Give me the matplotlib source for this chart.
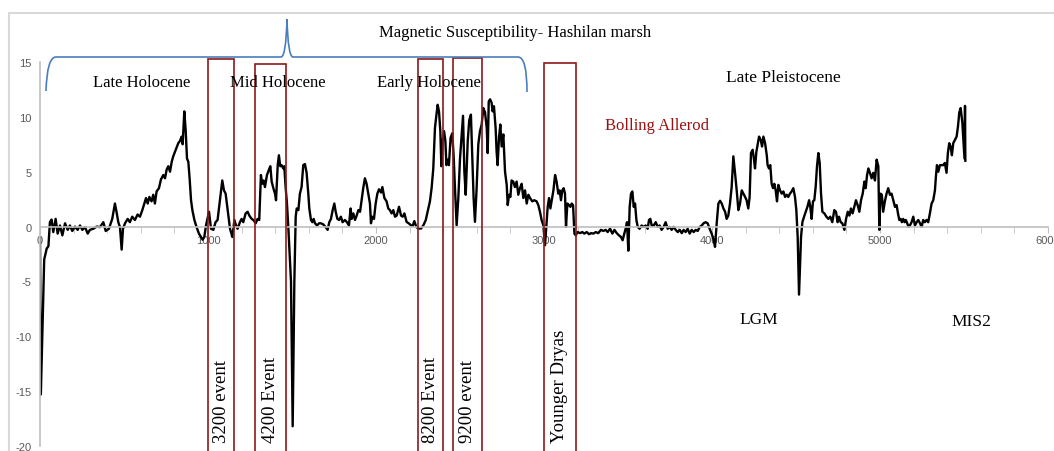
import matplotlib.pyplot as plt
from matplotlib.patches import Rectangle, PathPatch
from matplotlib.path import Path
from matplotlib.ticker import MultipleLocator

plt.rcParams['axes.unicode_minus'] = False

# Magnetic susceptibility record (depth / age axis, value)
depth = [0, 5, 25, 40, 50, 59, 69, 79, 93, 105, 119, 133, 149, 165, 178, 192, 208, 224, 238, 252,
         268, 284, 297, 317, 337, 357, 377, 391, 410, 430, 446, 456, 466, 476, 486, 494, 506, 522, 535, 549,
         565, 581, 595, 609, 621, 631, 641, 651, 664, 674, 684, 694, 708, 720, 734, 744, 754, 764, 774, 784,
         793, 803, 813, 823, 833, 843, 849, 859, 867, 875, 883, 891, 899, 907, 919, 932, 946, 958, 968, 978,
         988,
         1006, 1018, 1032, 1045, 1057, 1071, 1085, 1095, 1105, 1117, 1131, 1145, 1157, 1167, 1176, 1190, 1200,
         1210, 1224, 1236, 1246, 1260, 1270, 1284, 1295, 1305, 1315, 1323, 1331, 1339, 1351, 1363, 1371, 1379,
         1389, 1399, 1405, 1415, 1422, 1430, 1438, 1448, 1454, 1462, 1470, 1478, 1494, 1504, 1514, 1522, 1528,
         1538, 1547, 1557, 1567, 1577, 1587, 1597, 1603, 1613, 1621, 1629, 1637, 1649, 1661, 1672, 1686, 1700,
         1712, 1722, 1732, 1742, 1752, 1760, 1770, 1780, 1791, 1801, 1815, 1827, 1839, 1849, 1855, 1865, 1875,
         1885, 1895, 1905, 1914, 1924, 1934, 1944, 1954, 1964, 1970, 1978, 1988, 1998, 2008, 2018, 2030, 2038,
         2050,
         2063, 2073, 2083, 2093, 2103, 2113, 2123, 2137, 2149, 2159, 2169, 2182, 2196, 2208, 2218, 2228, 2240,
         2252, 2268, 2282, 2296, 2307, 2321, 2331, 2341, 2351, 2359, 2367, 2375, 2383, 2389, 2397, 2405, 2413,
         2419, 2427, 2434, 2444, 2454, 2462, 2470, 2480, 2490, 2500, 2510, 2518, 2526, 2534, 2546, 2555, 2565,
         2573, 2581, 2589, 2599, 2609, 2619, 2629, 2639, 2649, 2659, 2665, 2671, 2679, 2688, 2694, 2702, 2712,
         2718, 2724, 2732, 2740, 2748, 2758, 2768, 2778, 2784, 2792, 2800, 2807, 2817, 2827, 2837, 2847, 2857,
         2867, 2877, 2887, 2897, 2907, 2917, 2930, 2942, 2956, 2966, 2976, 2986, 2996, 3006,
         3022, 3030, 3038, 3046, 3056, 3066, 3075, 3085, 3093, 3101, 3109, 3117, 3125, 3131, 3139, 3149, 3157,
         3165, 3173, 3181, 3189, 3200, 3214, 3228, 3240, 3254, 3268, 3280, 3294, 3308, 3323, 3339, 3353, 3367,
         3379, 3393, 3407, 3419, 3433, 3446, 3458, 3468, 3478, 3486, 3494, 3502, 3510, 3518, 3526, 3534, 3542,
         3550, 3558, 3569, 3581, 3593, 3605, 3617, 3625, 3633, 3641, 3653, 3665, 3677, 3688, 3700, 3712, 3724,
         3736, 3748, 3760, 3772, 3784, 3796, 3808, 3820, 3831, 3843, 3855, 3867, 3879, 3891, 3903, 3915, 3927,
         3939, 3950, 3962, 3974, 3986, 3998, 4010, 4018,
         4028, 4038, 4048, 4058, 4068, 4078, 4087, 4097, 4107, 4117, 4127, 4137, 4147, 4157, 4167, 4177, 4187,
         4197, 4206, 4216, 4224, 4232, 4242, 4250, 4256, 4264, 4272, 4280, 4290, 4298, 4306, 4316, 4326, 4331,
         4339, 4347, 4355, 4363, 4371, 4379, 4387, 4395, 4405, 4415, 4425, 4435, 4445, 4454, 4464, 4474, 4484,
         4494, 4502, 4510, 4518, 4530, 4538, 4548, 4558, 4568, 4578, 4585, 4593, 4601, 4609, 4617, 4625, 4633,
         4641, 4649, 4657, 4669, 4681, 4693, 4704, 4716, 4728, 4738, 4748, 4756, 4766, 4776, 4788, 4798, 4808,
         4818, 4827, 4837, 4847, 4857, 4867, 4877, 4887, 4897, 4907, 4915, 4923, 4931,
         4940, 4950, 4960, 4970, 4980, 4990, 4996, 5003, 5011, 5019, 5029, 5039, 5049, 5059, 5069, 5079, 5089,
         5099, 5107, 5115, 5123, 5130, 5138, 5146, 5154, 5162, 5170, 5178, 5188, 5198, 5208, 5218, 5228, 5238,
         5248, 5257, 5267, 5277, 5287, 5297, 5307, 5317, 5327, 5333, 5339, 5347, 5357, 5367, 5377, 5386, 5396,
         5404, 5412, 5420, 5428, 5436, 5446, 5456, 5464, 5472, 5480, 5490, 5503, 5506, 5508]

ms = [-1, -15.3, -3, -2, -1.8, 0.4, 0.64, -0.5, 0.7, -0.64, 0.1, -0.8, 0.3, -0.3, 0.1, -0.4, 0, -0.3, 0.1, -0.3,
      -0.05, -0.64, -0.3, -0.2, 0, -0.05, 0.4, -0.4, -0.2, 0.7, 2.1, 1.3, 0.4, -0.05, -2.1, -0.2, 0.3, 0.7, 0.4, 0.9,
      0.6, 1.1, 0.9, 1.5, 2.1, 2.6, 2.1, 2.7, 2.3, 2.9, 2.1, 3.2, 3.5, 4.3, 4.7, 4.4, 5.2, 5.5, 5.0, 5.9,
      6.4, 6.8, 7.2, 7.6, 7.8, 8.2, 7.5, 10.5, 8.8, 6.2, 5.9, 4.3, 2.4, 1.5, 0.6, -0.05, -0.64, -0.95, -1.2, -0.95,
      0.1,
      1.35, -0.2, -0.3, 0.4, 0.6, 2.4, 4.2, 3.3, 3.0, 1.5, -0.2, -0.95, 0.6, 0.1, -0.2, 0.4, 0.7,
      0.4, 1.2, 1.35, 1.0, 0.7, 0.6, 0.3, 0.7, 0.6, 4.7, 3.9, 4.2, 3.6, 4.7, 5.2, 5.5, 4.1,
      3.5, 3.0, 2.4, 5.6, 6.5, 5.5, 5.6, 5.3, 5.5, 3.6, 2.1, -0.05, -5, -18.2, -5, 0.9, 1.65,
      1.5, 3.0, 3.6, 5.6, 5.7, 4.9, 3.0, 1.65, 0.6, 0.4, 0.7, 0.3, 0.1, 0.3, 0.3, 0.2, -0.05,
      -0.3, 0.4, 0.7, 1.5, 2.1, 1.35, 0.7, 0.6, 0.9, 0.4, 0.6, 0.4, 0.1, 1.65, 0.7, 1.2, 0.6,
      1.0, 1.5, 1.35, 2.4, 3.5, 4.4, 3.9, 3.0, 2.1, 0.3, 0.9, 0.7, 2.1, 3.0, 3.4, 3.1, 3.6,
      2.6,
      2.3, 1.65, 1.5, 1.2, 1.5, 0.9, 1.0, 1.8, 1.0, 0.9, 1.2, 0.43, 0.28, 0.12, 0.06, 0.5, -0.03,
      -0.18, -0.18, 0.12, 0.58, 1.35, 2.3, 3.5, 5.3, 9.0, 10.1, 11.1, 10.5, 8.7, 5.5, 7.8, 8.7, 7.8,
      5.6, 6.1, 5.6, 8.1, 8.5, 6.5, 3.5, 0.12, 2.6, 6.2, 8.4, 10.1, 5.0, 2.9, 7.8, 9.7, 10.2,
      6.5, 2.6, 0.43, 3.5, 7.5, 8.7, 9.3, 10.8, 10.4, 9.0, 6.7, 11.4, 11.6, 11.3, 10.5, 10.97, 9.0,
      6.8, 5.6, 8.1, 9.3, 7.3, 8.4, 5.0, 3.8, 1.96, 2.9, 2.7, 4.2, 4.1, 3.6, 4.1, 2.9, 3.5,
      3.9, 2.6, 3.3, 2.1, 2.9, 2.6, 2.3, 2.4, 2.3, 1.96, 1.35, 0.58, 0.12, -1.7,
      1.8, 2.6, 1.65, 2.4, 3.3, 4.7, 4.1, 3.0, 3.3, 2.4, 3.3, 3.5, 3.0, -0.03, 2.1, 1.95, 1.8,
      2.1, 1.95, -0.64, -0.8, -0.5, -0.6, -0.5, -0.64, -0.5, -0.7, -0.6, -0.64, -0.5, -0.6, -0.3, -0.4, -0.3,
      -0.5, -0.2, -0.64, -0.3, -0.6, -0.8, -0.95, -1.25, -0.64, -0.2, 0.4, -2.2, 1.8, 3.0, 3.2, 1.8, 2.1,
      0.6, -0.03, -0.2, 0.1, -0.03, 0.1, -0.2, 0.6, 0.7, 0.1, 0.1, 0.4, -0.03, 0.1, -0.3, -0.03, 0.4,
      -0.2, -0.03, -0.3, -0.03, -0.3, -0.5, -0.3, -0.6, -0.3, -0.5, -0.2, -0.64, -0.3, -0.5, -0.3, -0.4, -0.03,
      0.1, 0.3, 0.4, 0.3, -0.2, -0.64, -1.25, -1.85,
      0.3, 2.1, 2.35, 2.1, 1.65, 1.35, 0.7, 1.0, 2.1, 3.6, 6.4, 4.9, 3.3, 1.5, 2.1, 3.3, 3.0,
      2.7, 2.4, 1.65, 2.7, 6.7, 7.0, 6.1, 5.3, 6.8, 7.5, 8.2, 7.9, 7.3, 8.2, 7.6, 6.5, 5.6,
      5.3, 5.6, 3.9, 3.5, 3.9, 3.3, 2.3, 3.8, 3.3, 3.0, 3.2, 2.7, 2.9, 2.7, 3.0, 3.2, 3.5,
      2.7, 1.5, -0.95, -6.2, -0.95, 0.4, 0.9, 1.35, 1.8, 2.4, 1.8, 0.7, 2.3, 2.4, 3.6, 5.5, 6.7,
      5.8, 3.0, 1.35, 1.2, 0.9, 0.7, 0.9, 0.4, 1.5, 1.35, 0.4, 0.9, 0.4, 0.3, -0.3, 0.7, 1.35,
      1.0, 1.65, 1.2, 1.8, 2.4, 1.95, 1.35, 2.4, 3.0, 4.1, 3.5, 4.7, 5.3,
      4.9, 4.4, 4.9, 4.2, 6.1, 5.5, -0.3, 3.0, 2.9, 1.35, 2.3, 3.0, 3.5, 2.9, 3.0, 2.4, 1.8,
      1.95, 1.2, 0.6, 0.7, 0.4, 0.7, 0.4, 0.6, 0.3, -0.03, 0.1, 0.4, 0.9, 0.1, 0.4, 0.6, 0.3,
      -0.03, 0.6, 0.4, 0.6, 0.4, 1.2, 2.1, 2.4, 3.3, 4.6, 5.6, 5.0, 5.6, 5.6, 5.6, 5.8, 4.9,
      6.7, 7.6, 7.3, 6.5, 7.6, 7.9, 8.2, 9.1, 10.4, 10.8, 9.5, 6.2, 11.0, 6.0]

# Climate events (boxes)
event_labels = ['3200 event', '4200 Event', '8200 Event', '9200 event', 'Younger Dryas']
event_start = [1000, 1280, 2250, 2458, 3000]
event_end = [1155, 1464, 2399, 2631, 3190]
event_top = [15.3, 14.85, 15.3, 15.4, 14.94]

W, H = 1054, 452


def fpos(px, py):
    # pixel position -> figure fraction
    return px / W, 1 - py / H


fig = plt.figure(figsize=(W / 100, H / 100), dpi=100)
ax = fig.add_axes([40 / W, 1 - 447 / H, 1008 / W, 384 / H])

ax.plot(depth, ms, color='black', lw=1.7, zorder=2)
ax.set_xlim(0, 6000)
ax.set_ylim(-20, 15)

ax.spines['top'].set_visible(False)
ax.spines['right'].set_visible(False)
ax.spines['bottom'].set_position(('data', 0))
for s in ['left', 'bottom']:
    ax.spines[s].set_color('#bfbfbf')
    ax.spines[s].set_linewidth(1.2)

ax.xaxis.set_major_locator(MultipleLocator(1000))
ax.xaxis.set_minor_locator(MultipleLocator(200))
ax.set_yticks(range(-20, 16, 5))
ax.tick_params(axis='x', which='both', direction='out', length=4, color='#bfbfbf',
               labelsize=8, labelcolor='#595959', pad=2)
ax.tick_params(axis='y', length=0, labelsize=8, labelcolor='#595959', pad=6)
for lab in ax.get_xticklabels() + ax.get_yticklabels():
    lab.set_fontfamily('Liberation Sans')

# event boxes
for lbl, x0, x1, top in zip(event_labels, event_start, event_end, event_top):
    ax.add_patch(Rectangle((x0, -22), x1 - x0, top + 22, fill=False, edgecolor='#8b1a1a',
                           lw=1.2, clip_on=False, zorder=3))
    fig.text((40 + (x0 + x1) / 2 * 0.168) / W, 1 - 443 / H, lbl, rotation=90, ha='center', va='bottom',
             family='Liberation Serif', fontsize=13.5)

# brace over the Holocene
verts = [(46, 92), (47, 58), (56, 58), (281, 58), (286, 58), (287, 20), (288, 58), (293, 58),
         (518, 58), (527, 58), (527, 93)]
codes = [Path.MOVETO, Path.CURVE3, Path.CURVE3, Path.LINETO, Path.CURVE3, Path.CURVE3,
         Path.CURVE3, Path.CURVE3, Path.LINETO, Path.CURVE3, Path.CURVE3]
brace = Path([fpos(*v) for v in verts], codes)
fig.patches.append(PathPatch(brace, transform=fig.transFigure, fill=False, edgecolor='#4a7ebb', lw=1.2))

# outer frame
fig.patches.append(Rectangle(fpos(9, 460), 1.1, 446 / H, transform=fig.transFigure, fill=False,
                             edgecolor='#d9d9d9', lw=1.5))

serif = dict(family='Liberation Serif', ha='center', va='center')
fig.text(*fpos(515, 33), 'Magnetic Susceptibility- Hashilan marsh', fontsize=12, **serif)
fig.text(*fpos(142, 83), 'Late Holocene', fontsize=12, **serif)
fig.text(*fpos(278, 83), 'Mid Holocene', fontsize=12, **serif)
fig.text(*fpos(429, 83), 'Early Holocene', fontsize=12, **serif)
fig.text(*fpos(783, 78), 'Late Pleistocene', fontsize=12.5, **serif)
fig.text(*fpos(657, 126), 'Bolling Allerod', fontsize=12, color='#9b1111', **serif)
fig.text(*fpos(759, 320), 'LGM', fontsize=12.5, **serif)
fig.text(*fpos(971, 322), 'MIS2', fontsize=12.5, **serif)

plt.savefig('out.png', dpi=100)
